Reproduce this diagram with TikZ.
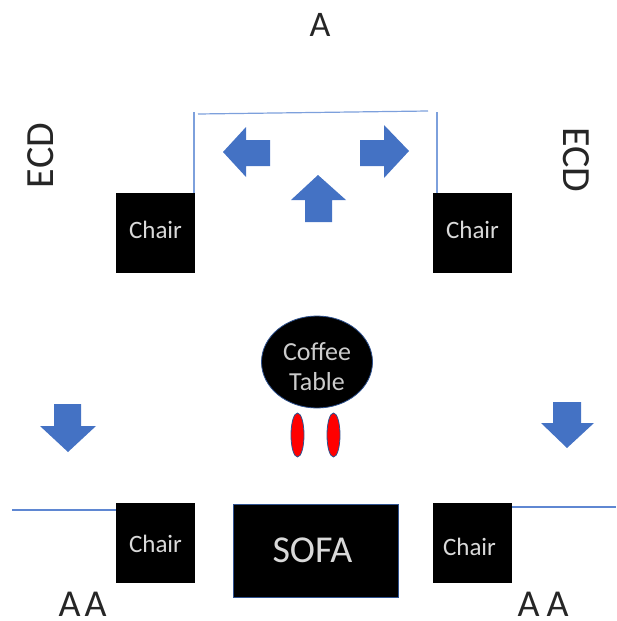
\documentclass[tikz,border=0pt]{standalone}
\usepackage{fontspec}
\setmainfont{Carlito}
\usetikzlibrary{shapes.geometric}
\definecolor{blk}{RGB}{0,0,0}
\definecolor{arrowblue}{RGB}{68,114,196}
\definecolor{lineblue}{RGB}{125,160,220}
\definecolor{linestrong}{RGB}{95,135,210}
\definecolor{edge}{RGB}{47,82,143}
\newcommand{\lift}[2]{\raisebox{#1}[0pt][0pt]{#2}}
\tikzset{
  x=1pt,y=-1pt,
  chairbox/.style={draw=none,fill=blk,minimum width=79pt,minimum height=80pt,inner sep=0pt,text=white!85!black,font=\fontsize{25}{25}\selectfont},
  wall/.style={draw=lineblue,line width=1.2pt},
  strongwall/.style={draw=linestrong,line width=1.4pt},
  bigarrow/.style={fill=arrowblue,draw=none},
  lab/.style={inner sep=0pt,font=\fontsize{38}{38}\selectfont,text=black!85},
}
\begin{document}
\begin{tikzpicture}
\useasboundingbox (0,0) rectangle (616,621);
\node[chairbox] (c1) at (155.5,233) {\lift{-5pt}{Chair}};
\node[chairbox] (c2) at (472.5,233) {\lift{-5pt}{Chair}};
\node[chairbox] (c3) at (155.5,543) {\lift{-9pt}{Chair}};
\node[chairbox] (c4) at (472.5,543) {\lift{-12pt}{Chair}\rule{6pt}{0pt}};
\node[draw=edge,line width=0.8pt,fill=blk,minimum width=165pt,minimum height=93pt,inner sep=0pt,text=white!85!black,font=\fontsize{38}{38}\selectfont] (sofa) at (315.5,550.5) {SOFA\rule{6pt}{0pt}};
\node[ellipse,draw=edge,line width=0.8pt,fill=blk,minimum width=111pt,minimum height=92pt,inner sep=0pt,align=center,text=white!80!black,font=\fontsize{26}{30}\selectfont] (table) at (317,362) {\lift{-13pt}{Coffee}\\\lift{-13pt}{Table}};
\node[ellipse,draw=edge,line width=0.8pt,fill=red,minimum width=13pt,minimum height=44pt,inner sep=0pt] (s1) at (297.5,435) {};
\node[ellipse,draw=edge,line width=0.8pt,fill=red,minimum width=13pt,minimum height=44pt,inner sep=0pt] (s2) at (333.5,435) {};
\coordinate (tl) at (198,114);
\coordinate (tr) at (428,111);
\coordinate (vl) at (194,112);
\coordinate (vr) at (437,112);
\coordinate (ll) at (12,510);
\coordinate (rr) at (616,507);
\draw[wall] (tl) -- (tr);
\draw[wall] (vl) -- (c1.north east -| vl);
\draw[wall] (vr) -- (c2.north west -| vr);
\draw[strongwall] (ll) -- (c3.west |- ll);
\draw[strongwall] (c4.east |- rr) -- (rr);
\fill[bigarrow] (223,152) -- (246,127) -- (246,140) -- (270,140) -- (270,166) -- (246,166) -- (246,177) -- cycle;
\fill[bigarrow] (409,151) -- (384,125) -- (384,140) -- (360,140) -- (360,166) -- (384,166) -- (384,178) -- cycle;
\fill[bigarrow] (318,175) -- (346,200) -- (332,200) -- (332,222) -- (305,222) -- (305,200) -- (291,200) -- cycle;
\fill[bigarrow] (68,452) -- (96,426) -- (81,426) -- (81,404) -- (54,404) -- (54,426) -- (40,426) -- cycle;
\fill[bigarrow] (567,448) -- (594,423) -- (581,423) -- (581,402) -- (553,402) -- (553,423) -- (541,423) -- cycle;
\node[lab,font=\fontsize{36}{36}\selectfont] (a1) at (320,25) {A};
\node[lab,font=\fontsize{40}{40}\selectfont,rotate=90] (e1) at (41,155.5) {ECD};
\node[lab,font=\fontsize{40}{40}\selectfont,rotate=-90] (e2) at (576,160) {ECD};
\node[lab] (a2) at (82.5,604) {A\hspace{4pt}A};
\node[lab] (a3) at (543,604) {A\hspace{7pt}A};
\end{tikzpicture}
\end{document}
